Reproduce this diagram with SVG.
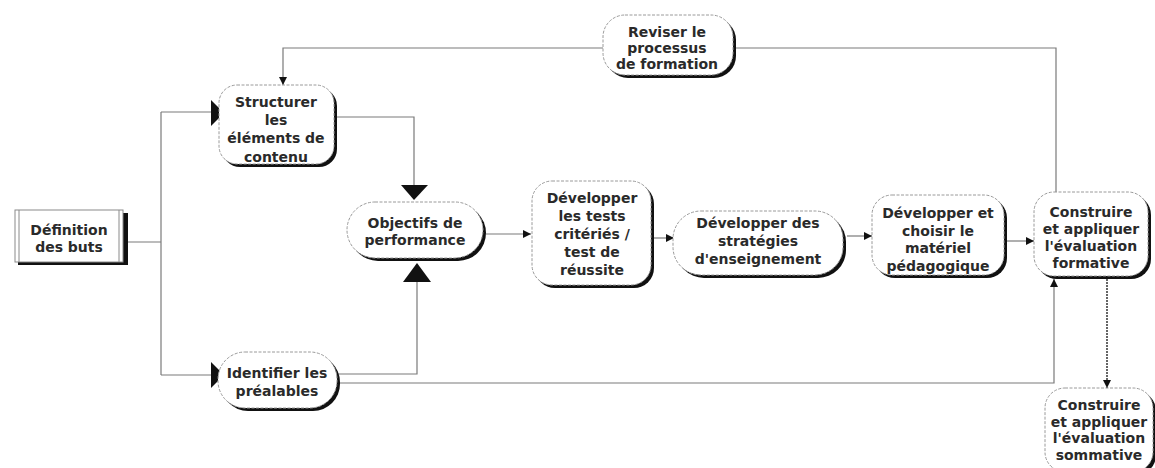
<svg xmlns="http://www.w3.org/2000/svg" width="1155" height="468" viewBox="0 0 1155 468">
  <defs>
    <style>
      .body { fill: #ffffff; stroke: #9a9a9a; stroke-width: 1; stroke-dasharray: 3 1.5; }
      .shadow { fill: #111111; }
      .lbl { font-family: "DejaVu Sans", Verdana, sans-serif; font-weight: bold; font-size: 14px; fill: #2a2a2a; text-anchor: middle; }
      .wire { fill: none; stroke: #7a7a7a; stroke-width: 1.2; }
      .dotted { fill: none; stroke: #333333; stroke-width: 1.5; stroke-dasharray: 2 1; }
      .head { fill: #111111; }
    </style>
    <marker id="arrow" viewBox="0 0 10 10" refX="10" refY="5" markerWidth="8" markerHeight="8" markerUnits="userSpaceOnUse" orient="auto">
      <path d="M0,0 L10,5 L0,10 Z" fill="#111111"/>
    </marker>
  </defs>

  <rect width="1155" height="468" fill="#ffffff"/>

  <!-- connectors -->
  <g id="connectors">
    <!-- goals split to the two upper/lower branches -->
    <path class="wire" d="M128,242 H161"/>
    <path class="wire" d="M161,112 V375"/>
    <path class="wire" d="M161,112 H212"/>
    <path class="wire" d="M161,375 H212"/>
    <polygon class="head" points="211,100 224,113 211,126"/>
    <polygon class="head" points="211,362 224,375 211,388"/>

    <!-- content structure down to objectives -->
    <path class="wire" d="M336,117 H414 V186"/>
    <polygon class="head" points="401,185 428,185 414,200"/>

    <!-- prerequisites up to objectives -->
    <path class="wire" d="M338,374 H417 V282"/>
    <polygon class="head" points="403,282 431,282 417,263"/>

    <!-- prerequisites to formative evaluation -->
    <path class="wire" d="M338,383 H1054 V279" marker-end="url(#arrow)"/>

    <!-- main horizontal chain -->
    <path class="wire" d="M486,234 H531" marker-end="url(#arrow)"/>
    <path class="wire" d="M653,238 H674" marker-end="url(#arrow)"/>
    <path class="wire" d="M847,236 H872" marker-end="url(#arrow)"/>
    <path class="wire" d="M1007,241 H1034" marker-end="url(#arrow)"/>

    <!-- feedback loop through revision -->
    <path class="wire" d="M1056,192 V48 H736"/>
    <path class="wire" d="M603,48 H283 V85" marker-end="url(#arrow)"/>

    <!-- formative to summative -->
    <path class="dotted" d="M1107,279 V388" marker-end="url(#arrow)"/>
  </g>

  <!-- nodes -->
  <g id="definition">
    <rect class="shadow" x="18" y="213" width="110" height="52"/>
    <rect x="15" y="210" width="108" height="52" fill="#ffffff" stroke="#8a8a8a" stroke-width="1"/>
    <line x1="19" y1="210" x2="19" y2="262" stroke="#8a8a8a" stroke-width="1"/>
    <line x1="119" y1="210" x2="119" y2="262" stroke="#8a8a8a" stroke-width="1"/>
    <text class="lbl" x="69" y="235">Définition</text>
    <text class="lbl" x="69" y="252">des buts</text>
  </g>

  <g id="structurer">
    <rect class="shadow" x="222" y="88" width="115" height="79" rx="18"/>
    <rect class="body" x="219" y="85" width="115" height="79" rx="18"/>
    <text class="lbl" x="276" y="107">Structurer</text>
    <text class="lbl" x="276" y="125">les</text>
    <text class="lbl" x="276" y="143">éléments de</text>
    <text class="lbl" x="276" y="162">contenu</text>
  </g>

  <g id="identifier">
    <rect class="shadow" x="221" y="355" width="119" height="56" rx="27"/>
    <rect class="body" x="218" y="352" width="119" height="56" rx="27"/>
    <text class="lbl" x="277" y="378">Identifier les</text>
    <text class="lbl" x="277" y="396">préalables</text>
  </g>

  <g id="objectifs">
    <rect class="shadow" x="350" y="205" width="136" height="56" rx="28"/>
    <rect class="body" x="347" y="202" width="136" height="56" rx="28"/>
    <text class="lbl" x="415" y="228">Objectifs de</text>
    <text class="lbl" x="415" y="245">performance</text>
  </g>

  <g id="tests">
    <rect class="shadow" x="535" y="184" width="119" height="104" rx="20"/>
    <rect class="body" x="532" y="181" width="119" height="104" rx="20"/>
    <text class="lbl" x="592" y="203">Développer</text>
    <text class="lbl" x="592" y="221">les tests</text>
    <text class="lbl" x="592" y="239">critériés /</text>
    <text class="lbl" x="592" y="257">test de</text>
    <text class="lbl" x="592" y="275">réussite</text>
  </g>

  <g id="strategies">
    <rect class="shadow" x="676" y="214" width="170" height="64" rx="28"/>
    <rect class="body" x="673" y="211" width="170" height="64" rx="28"/>
    <text class="lbl" x="758" y="228">Développer des</text>
    <text class="lbl" x="758" y="246">stratégies</text>
    <text class="lbl" x="758" y="264">d'enseignement</text>
  </g>

  <g id="materiel">
    <rect class="shadow" x="875" y="198" width="132" height="80" rx="20"/>
    <rect class="body" x="872" y="195" width="132" height="80" rx="20"/>
    <text class="lbl" x="938" y="218">Développer et</text>
    <text class="lbl" x="938" y="235.5">choisir le</text>
    <text class="lbl" x="938" y="253">matériel</text>
    <text class="lbl" x="938" y="270.5">pédagogique</text>
  </g>

  <g id="formative">
    <rect class="shadow" x="1037" y="195" width="114" height="84" rx="20"/>
    <rect class="body" x="1034" y="192" width="114" height="84" rx="20"/>
    <text class="lbl" x="1091" y="217">Construire</text>
    <text class="lbl" x="1091" y="234">et appliquer</text>
    <text class="lbl" x="1091" y="251">l'évaluation</text>
    <text class="lbl" x="1091" y="268">formative</text>
  </g>

  <g id="reviser">
    <rect class="shadow" x="606" y="18" width="130" height="60" rx="22"/>
    <rect class="body" x="603" y="15" width="130" height="60" rx="22"/>
    <text class="lbl" x="667" y="37">Reviser le</text>
    <text class="lbl" x="667" y="53">processus</text>
    <text class="lbl" x="667" y="69">de formation</text>
  </g>

  <g id="sommative">
    <rect class="shadow" x="1048" y="391" width="108" height="84" rx="20"/>
    <rect class="body" x="1045" y="388" width="108" height="84" rx="20"/>
    <text class="lbl" x="1099" y="410">Construire</text>
    <text class="lbl" x="1099" y="427">et appliquer</text>
    <text class="lbl" x="1099" y="443">l'évaluation</text>
    <text class="lbl" x="1099" y="460">sommative</text>
  </g>
</svg>
